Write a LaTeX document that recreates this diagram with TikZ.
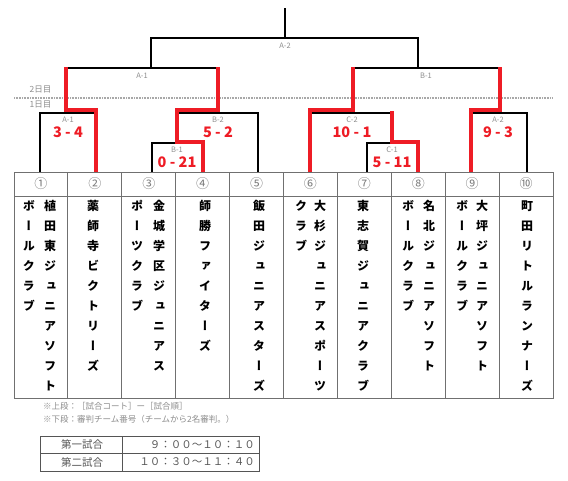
\documentclass[tikz,border=0pt]{standalone}
\usepackage{fontspec}
\newfontfamily\jp{Noto Sans CJK JP}
\newfontfamily\jpv[RawFeature=+vert]{Noto Sans CJK JP}
\definecolor{winred}{HTML}{EE1C25}
\definecolor{lblgray}{HTML}{8C8C8C}
\definecolor{numgray}{HTML}{7A7A7A}
\definecolor{tabgray}{HTML}{707070}
\definecolor{schgray}{HTML}{555555}
\definecolor{dashgray}{HTML}{A8A8A8}
\tikzset{
  blk/.style={line width=1.3pt, black},
  win/.style={line width=3.8pt, winred},
  mlbl/.style={font=\jp\fontsize{7.5}{8}\selectfont, text=lblgray, inner sep=0},
  daylbl/.style={font=\jp\fontsize{8.5}{9}\selectfont, text=lblgray, inner sep=0},
  score/.style={font=\jp\bfseries\fontsize{14.5}{16}\selectfont, text=winred, inner sep=0},
  ch/.style={font=\jpv\bfseries\fontsize{12}{12}\selectfont, inner sep=0, text height=10pt, text depth=0pt},
  num/.style={font=\jp\fontsize{13}{13}\selectfont, text=numgray, inner sep=0},
  gridl/.style={line width=0.9pt, tabgray},
  note/.style={font=\jp\fontsize{8.5}{9}\selectfont, text=lblgray, inner sep=0, anchor=west},
  sch/.style={font=\jp\fontsize{10.5}{11}\selectfont, text=schgray, inner sep=0},
}
\newcommand\vcol[3]{%
  \foreach \c [count=\i] in {#3} {\node[ch] (#1-\i) at (#2, 185+20*\i) {\c};}%
}
\begin{document}
\begin{tikzpicture}[x=1pt,y=-1pt]
\useasboundingbox (0,0) rectangle (568,480);

% day separator
\draw[dashgray, line width=1.4pt, dash pattern=on 1pt off 0.6pt] (14,98) -- (553,98);
\node[daylbl] (day2) at (40.5,90) {2日目};
\node[daylbl] (day1) at (40.5,105) {1日目};

% team tops
\coordinate (t1) at (40,172);
\coordinate (t2) at (96,172);
\coordinate (t3) at (152,172);
\coordinate (t4) at (203,172);
\coordinate (t5) at (258,172);
\coordinate (t6) at (310,172);
\coordinate (t7) at (367,172);
\coordinate (t8) at (418,172);
\coordinate (t9) at (471,172);
\coordinate (t10) at (527,172);

% junctions
\coordinate (mA1) at (66,113);
\coordinate (mB1) at (177,143);
\coordinate (mB2) at (218,113);
\coordinate (mC1) at (392,143);
\coordinate (mC2) at (353,113);
\coordinate (mA2) at (500,113);
\coordinate (dA1) at (142,68);
\coordinate (dB1) at (426,68);
\coordinate (jA1) at (151,68);
\coordinate (jB1) at (418,68);
\coordinate (fin) at (285,38);
\coordinate (top) at (285,8);

% black bracket
\draw[blk] (t1) |- (mA1) -| (t2);
\draw[blk] (t3) |- (mB1) -| (t4);
\draw[blk] (mB1) |- (mB2) -| (t5);
\draw[blk] (t7) |- (mC1) -| (t8);
\draw[blk] (t6) |- (mC2) -| (mC1);
\draw[blk] (t9) |- (mA2) -| (t10);
\draw[blk] (mA1) |- (dA1) -| (mB2);
\draw[blk] (mC2) |- (dB1) -| (mA2);
\draw[blk] (jA1) |- (fin) -| (jB1);
\draw[blk] (fin) -- (top);

% winners (red)
\draw[win] (66,67) |- (96,110) -- (t2);
\draw[win] (218,67) |- (177,110) |- (203,142) -- (t4);
\draw[win] (353,67) |- (310,110) -- (t6);
\draw[win] (392,111) |- (418,142) -- (t8);
\draw[win] (500,67) |- (471,110) -- (t9);

% match labels
\node[mlbl] (lA2f) at (285,46) {A-2};
\node[mlbl] (lA1d) at (142,76) {A-1};
\node[mlbl] (lB1d) at (426,76) {B-1};
\node[mlbl] (lA1) at (68,120) {A-1};
\node[mlbl] (lB2) at (218,120) {B-2};
\node[mlbl] (lB1) at (177,150) {B-1};
\node[mlbl] (lC2) at (352,120) {C-2};
\node[mlbl] (lC1) at (392,150) {C-1};
\node[mlbl] (lA2) at (498,120) {A-2};

% scores
\node[score] (sA1) at (68,132) {3 - 4};
\node[score] (sB2) at (218,132) {5 - 2};
\node[score] (sB1) at (177,162.5) {0 - 21};
\node[score] (sC2) at (352,132) {10 - 1};
\node[score] (sC1) at (392,162.5) {5 - 11};
\node[score] (sA2) at (498,132) {9 - 3};

% team table
\draw[gridl] (14,172) rectangle (553,398);
\draw[gridl] (14,196) -- (553,196);
\foreach \i in {1,...,9} \draw[gridl] ({14+53.9*\i},172) -- ({14+53.9*\i},398);
\foreach \n [count=\i] in {①,②,③,④,⑤,⑥,⑦,⑧,⑨,⑩}
  \node[num] (n\i) at ({14+53.9*(\i-0.5)},184) {\n};

\vcol{a1}{50}{植,田,東,ジ,ュ,ニ,ア,ソ,フ,ト}
\vcol{b1}{29}{ボ,ー,ル,ク,ラ,ブ}
\vcol{a2}{93}{薬,師,寺,ビ,ク,ト,リ,ー,ズ}
\vcol{a3}{159}{金,城,学,区,ジ,ュ,ニ,ア,ス}
\vcol{b3}{137}{ポ,ー,ツ,ク,ラ,ブ}
\vcol{a4}{205}{師,勝,フ,ァ,イ,タ,ー,ズ}
\vcol{a5}{259}{飯,田,ジ,ュ,ニ,ア,ス,タ,ー,ズ}
\vcol{a6}{320}{大,杉,ジ,ュ,ニ,ア,ス,ポ,ー,ツ}
\vcol{b6}{301}{ク,ラ,ブ}
\vcol{a7}{363}{東,志,賀,ジ,ュ,ニ,ア,ク,ラ,ブ}
\vcol{a8}{429}{名,北,ジ,ュ,ニ,ア,ソ,フ,ト}
\vcol{b8}{408}{ボ,ー,ル,ク,ラ,ブ}
\vcol{a9}{482}{大,坪,ジ,ュ,ニ,ア,ソ,フ,ト}
\vcol{b9}{462}{ボ,ー,ル,ク,ラ,ブ}
\vcol{a10}{527}{町,田,リ,ト,ル,ラ,ン,ナ,ー,ズ}

% notes
\node[note] (note1) at (43,406) {※上段：［試合コート］ー［試合順］};
\node[note] (note2) at (43,419) {※下段：審判チーム番号（チームから2名審判。）};

% schedule
\draw[schgray, line width=1pt] (40,436) rectangle (259,471);
\draw[schgray, line width=1pt] (40,453.5) -- (259,453.5);
\draw[schgray, line width=1pt] (122,436) -- (122,471);
\node[sch] (g1) at (82,444.5) {第一試合};
\node[sch] (g2) at (82,462) {第二試合};
\node[sch, anchor=east] (h1) at (255,444.5) {９：００～１０：１０};
\node[sch, anchor=east] (h2) at (255,462) {１０：３０～１１：４０};
\end{tikzpicture}
\end{document}
